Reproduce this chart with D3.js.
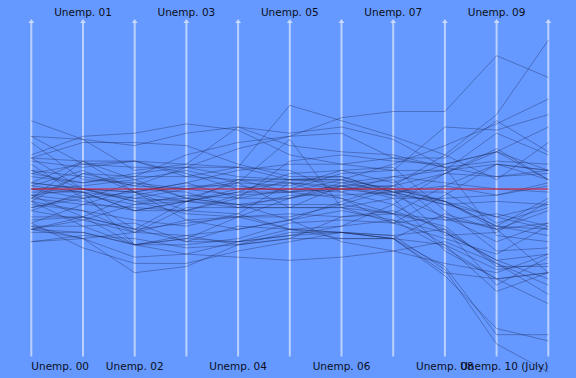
<!DOCTYPE html>
<html>
<head>
<meta charset="utf-8">
<script src="https://cdn.jsdelivr.net/npm/d3@7"></script>
<style>
  body { margin: 0; background: #6699ff; }
  svg { display: block; }
  .line { fill: none; stroke: #1c2a5c; stroke-opacity: 0.38; stroke-width: 1; }
  .avg { fill: none; stroke: #e0141c; stroke-width: 1.1; }
  .axis-line { stroke: #ffffff; stroke-opacity: 0.55; stroke-width: 2; }
  .axis-head { fill: #ffffff; fill-opacity: 0.6; }
  .label { font-family: "DejaVu Sans", sans-serif; font-size: 10.5px; fill: #0a0f20; }
</style>
</head>
<body>
<script>
// Axis labels (annual averages 2000-2009, July 2010)
let labels = ["Unemp. 00", "Unemp. 01", "Unemp. 02", "Unemp. 03", "Unemp. 04", "Unemp. 05",
              "Unemp. 06", "Unemp. 07", "Unemp. 08", "Unemp. 09", "Unemp. 10 (July)"];

// National unemployment rate for each axis
let national = [4.0, 4.7, 5.8, 6.0, 5.5, 5.1, 4.6, 4.6, 5.8, 9.3, 9.5];

let states = ["AL", "AK", "AZ", "AR", "CA", "CO", "CT", "DE", "DC", "FL", "GA", "HI", "ID", "IL", "IN",
              "IA", "KS", "KY", "LA", "ME", "MD", "MA", "MI", "MN", "MS", "MO", "MT", "NE", "NV", "NH",
              "NJ", "NM", "NY", "NC", "ND", "OH", "OK", "OR", "PA", "RI", "SC", "SD", "TN", "TX", "UT",
              "VT", "VA", "WA", "WV", "WI", "WY"];

// State unemployment rates, one row per state, one value per axis
let rates = [
    [4.6, 5.1, 5.9, 6.0, 5.7, 4.5, 4.0, 3.5, 5.6, 10.1, 9.8],
    [6.2, 6.3, 7.2, 7.8, 7.5, 6.9, 6.6, 6.2, 6.5, 7.8, 7.8],
    [4.0, 4.8, 6.1, 5.7, 5.0, 4.6, 4.1, 3.8, 5.9, 9.1, 9.7],
    [4.2, 4.7, 5.4, 5.7, 5.7, 5.2, 5.2, 5.3, 5.1, 7.3, 7.6],
    [4.9, 5.4, 6.7, 6.8, 6.2, 5.4, 4.9, 5.4, 7.2, 11.4, 12.4],
    [2.7, 3.8, 5.6, 6.1, 5.6, 5.0, 4.3, 3.8, 4.8, 8.1, 8.2],
    [2.3, 3.1, 4.4, 5.4, 4.9, 4.9, 4.4, 4.5, 5.7, 8.2, 8.9],
    [3.6, 3.5, 4.0, 4.2, 3.9, 4.0, 3.6, 3.5, 4.9, 8.0, 8.4],
    [5.7, 6.3, 6.4, 6.8, 7.5, 6.5, 5.8, 5.7, 6.5, 9.7, 10.0],
    [3.8, 4.7, 5.7, 5.3, 4.7, 3.8, 3.4, 4.1, 6.3, 10.5, 11.5],
    [3.5, 4.0, 4.8, 4.8, 4.7, 5.3, 4.6, 4.4, 6.3, 9.7, 10.1],
    [4.0, 4.6, 4.0, 3.9, 3.3, 2.8, 2.4, 2.6, 4.1, 6.9, 6.4],
    [4.6, 4.7, 5.4, 5.2, 4.6, 3.8, 3.2, 3.0, 5.0, 8.0, 8.8],
    [4.5, 5.5, 6.5, 6.7, 6.2, 5.7, 4.5, 5.0, 6.4, 10.1, 10.1],
    [2.9, 4.2, 5.2, 5.3, 5.3, 5.4, 5.0, 4.5, 5.9, 10.1, 10.1],
    [2.6, 3.3, 4.0, 4.4, 4.6, 4.3, 3.7, 3.8, 4.0, 6.0, 6.8],
    [3.8, 4.3, 5.1, 5.6, 5.5, 5.1, 4.5, 4.1, 4.4, 7.0, 6.6],
    [4.2, 5.6, 5.7, 6.2, 5.2, 6.0, 5.7, 5.5, 6.6, 10.5, 10.1],
    [5.0, 5.6, 6.1, 6.6, 5.7, 6.7, 4.0, 3.8, 4.6, 6.8, 7.0],
    [3.3, 3.7, 4.4, 5.0, 4.6, 4.8, 4.6, 4.7, 5.4, 8.1, 8.0],
    [3.6, 4.0, 4.4, 4.5, 4.2, 4.1, 3.9, 3.6, 4.4, 7.0, 7.4],
    [2.7, 3.7, 5.3, 5.8, 5.2, 4.8, 4.8, 4.5, 5.3, 8.4, 9.0],
    [3.7, 5.2, 6.2, 7.1, 7.0, 6.8, 6.9, 7.1, 8.3, 13.6, 13.1],
    [3.1, 3.8, 4.5, 4.9, 4.6, 4.2, 4.1, 4.6, 5.4, 8.0, 6.8],
    [5.7, 5.5, 6.7, 6.4, 6.2, 7.8, 6.8, 6.3, 6.9, 9.6, 11.0],
    [3.3, 4.6, 5.5, 5.6, 5.8, 5.4, 4.8, 5.0, 6.0, 9.3, 9.4],
    [4.8, 4.4, 4.5, 4.3, 4.3, 3.8, 3.2, 3.1, 4.5, 6.2, 7.3],
    [2.8, 3.1, 3.6, 3.9, 3.8, 3.8, 3.0, 3.0, 3.3, 4.6, 4.8],
    [4.1, 5.3, 5.7, 5.0, 4.2, 4.1, 4.2, 4.7, 6.9, 11.7, 14.3],
    [2.8, 3.5, 4.7, 4.3, 3.8, 3.6, 3.4, 3.6, 3.9, 6.4, 5.8],
    [3.7, 4.2, 5.8, 5.9, 4.9, 4.5, 4.7, 4.3, 5.5, 9.1, 9.6],
    [5.0, 4.7, 5.5, 6.0, 5.8, 5.3, 4.3, 3.5, 4.2, 7.2, 8.3],
    [4.5, 4.9, 6.2, 6.4, 5.8, 5.0, 4.6, 4.6, 5.4, 8.4, 8.2],
    [3.7, 5.6, 6.7, 6.5, 5.5, 5.3, 4.7, 4.7, 6.3, 10.6, 9.8],
    [2.9, 2.8, 3.4, 3.6, 3.5, 3.4, 3.2, 3.1, 3.2, 4.3, 3.6],
    [4.0, 4.4, 5.7, 6.2, 6.1, 5.9, 5.4, 5.6, 6.5, 10.2, 10.3],
    [3.0, 3.8, 4.5, 5.6, 4.9, 4.5, 4.0, 4.3, 3.8, 6.4, 6.8],
    [5.1, 6.4, 7.6, 8.1, 7.4, 6.2, 5.4, 5.2, 6.4, 11.1, 10.6],
    [4.2, 4.7, 5.7, 5.6, 5.4, 5.0, 4.7, 4.4, 5.4, 8.1, 9.2],
    [4.1, 4.6, 5.1, 5.3, 5.2, 5.1, 5.1, 5.2, 7.8, 11.2, 11.9],
    [3.6, 5.2, 5.9, 6.7, 6.8, 6.8, 6.4, 5.6, 6.8, 11.5, 10.7],
    [2.7, 3.1, 3.1, 3.5, 3.7, 3.7, 3.2, 3.0, 3.0, 4.8, 4.6],
    [3.9, 4.6, 5.1, 5.6, 5.4, 5.6, 5.2, 4.8, 6.6, 10.5, 9.8],
    [4.4, 4.9, 6.3, 6.7, 5.9, 5.4, 4.9, 4.4, 4.9, 7.6, 8.4],
    [3.4, 4.4, 6.0, 5.7, 5.0, 4.1, 2.9, 2.6, 3.4, 6.6, 7.4],
    [2.7, 3.3, 4.0, 4.5, 3.7, 3.5, 3.7, 3.9, 4.5, 6.9, 6.1],
    [2.3, 3.2, 4.2, 4.1, 3.7, 3.5, 3.0, 3.0, 4.0, 6.7, 7.1],
    [5.0, 6.2, 7.3, 7.4, 6.3, 5.5, 5.0, 4.5, 5.3, 8.9, 9.0],
    [5.5, 5.0, 6.0, 6.0, 5.3, 5.0, 4.9, 4.6, 4.3, 7.9, 9.1],
    [3.4, 4.5, 5.3, 5.6, 5.0, 4.8, 4.7, 4.9, 4.8, 8.5, 8.3],
    [3.8, 3.8, 4.0, 4.4, 3.8, 3.6, 3.2, 3.0, 3.1, 6.4, 6.8]
];

let width = 576, height = 378;

let svg = d3.select("body")
    .append("svg")
    .attr("width", width)
    .attr("height", height);

svg.append("rect")
    .attr("width", width)
    .attr("height", height)
    .attr("fill", "#6699ff");

// Axis positions and a shared scale of the gap to the national rate
let x = d3.scalePoint(labels, [31.3, 548.3]);
let y = d3.scaleLinear([-5.5, 5.5], [359.5, 18.5]);

let line = d3.line();

// Axes
let axes = svg.append("g")
    .selectAll("g")
    .data(labels)
    .enter()
    .append("g")
    .attr("transform", d => `translate(${x(d)},0)`);

axes.append("line")
    .attr("class", "axis-line")
    .attr("y1", 22.5)
    .attr("y2", 356.5);

axes.append("path")
    .attr("class", "axis-head")
    .attr("d", "M-3,23L0,19L3,23Z");

// State lines
svg.append("g")
    .selectAll("path")
    .data(rates)
    .enter()
    .append("path")
    .attr("class", "line")
    .attr("d", row => line(row.map((v, i) => [x(labels[i]), y(v - national[i])])));

// National average
svg.append("path")
    .attr("class", "avg")
    .attr("d", line(national.map((v, i) => [x(labels[i]), y(v - national[i])])));

// Labels, alternating bottom and top
svg.append("g")
    .selectAll("text")
    .data(labels)
    .enter()
    .append("text")
    .attr("class", "label")
    .attr("x", d => x(d))
    .attr("y", (d, i) => i % 2 ? 15.5 : 369.5)
    .attr("text-anchor", (d, i) => i == 0 ? "start" : i == labels.length - 1 ? "end" : "middle")
    .text(d => d);
</script>
</body>
</html>
